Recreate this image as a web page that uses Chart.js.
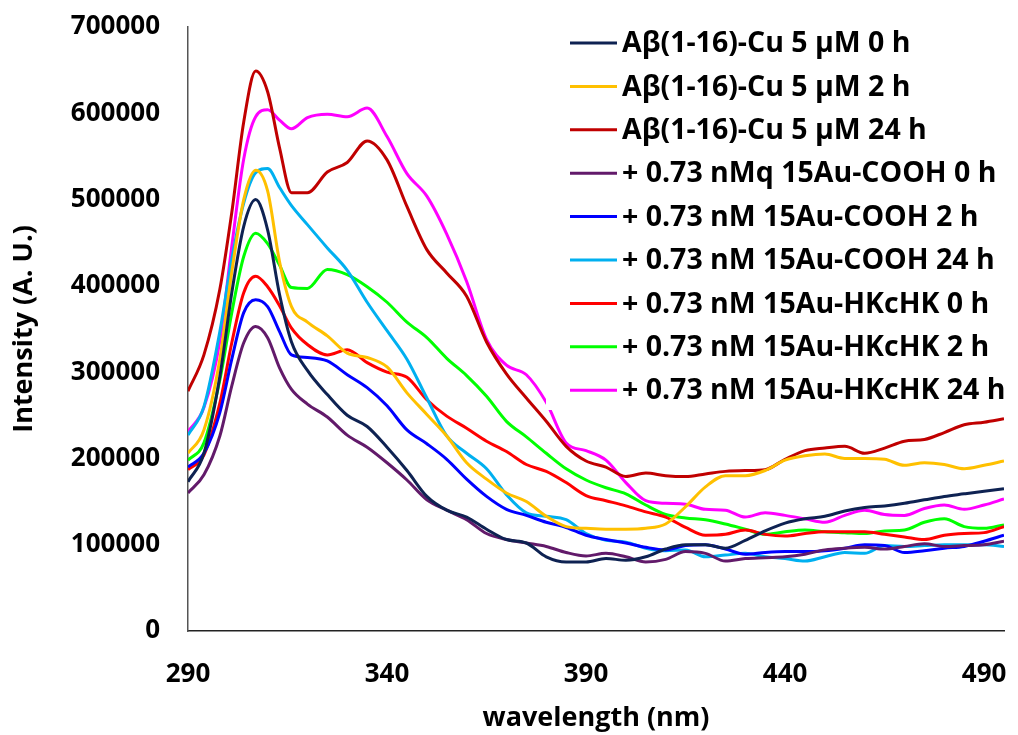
<!DOCTYPE html>
<html>
<head>
<meta charset="utf-8">
<title>Fluorescence spectra</title>
<script src="https://cdn.jsdelivr.net/npm/chart.js@4.4.1/dist/chart.umd.min.js"></script>
<style>
    html, body { margin: 0; padding: 0; background: #fff; }
    #chart { display: block; }
</style>
</head>
<body>
<canvas id="chart" width="1018" height="735"></canvas>
<script>
'use strict';

// x values (nm), denser around the 307 nm peak
const wavelengths = [290, 294, 298, 301, 304, 307, 310, 313, 316, 320,
    325, 330, 335, 340, 345, 350, 355, 360, 365, 370,
    375, 380, 385, 390, 395, 400, 405, 410, 415, 420,
    425, 430, 435, 440, 445, 450, 455, 460, 465, 470,
    475, 480, 485, 490, 495];
const xTicks = [290, 340, 390, 440, 490];

const seriesLabels = [
    'A\u03b2(1-16)-Cu 5 \u03bcM 0 h',
    'A\u03b2(1-16)-Cu 5 \u03bcM 2 h',
    'A\u03b2(1-16)-Cu 5 \u03bcM 24 h',
    '+ 0.73 nMq 15Au-COOH 0 h',
    '+ 0.73 nM 15Au-COOH 2 h',
    '+ 0.73 nM 15Au-COOH 24 h',
    '+ 0.73 nM 15Au-HKcHK 0 h',
    '+ 0.73 nM 15Au-HKcHK 2 h',
    '+ 0.73 nM 15Au-HKcHK 24 h',
];
const seriesColors = ['#0e2252', '#ffc000', '#c00000', '#621a6a', '#0000ff', '#00b0f0', '#ff0000', '#00ff00', '#ff00ff'];

// intensities (A. U.), one value per wavelength
const abCu0h = [173000, 206000, 295000, 392000, 469000, 500000, 465000, 390000, 335000, 302000,
    274000, 250000, 237000, 213000, 186000, 156000, 140000, 132000, 118000, 106000,
    102000, 86000, 80000, 80000, 84000, 82000, 86000, 95000, 100000, 100000,
    96000, 105000, 116000, 125000, 130000, 133000, 139000, 143000, 145000, 148000,
    152000, 156000, 159000, 162000, 165000];
const abCu2h = [206000, 233000, 315000, 416000, 500000, 534000, 510000, 428000, 376000, 358000,
    342000, 322000, 317000, 306000, 276000, 251000, 226000, 195000, 176000, 160000,
    150000, 133000, 121000, 119000, 118000, 118000, 119000, 124000, 144000, 167000,
    180000, 180000, 186000, 198000, 203000, 205000, 200000, 200000, 199000, 192000,
    195000, 193000, 188000, 192000, 197000];
const abCu24h = [278000, 320000, 396000, 485000, 590000, 649000, 625000, 560000, 508000, 508000,
    532000, 543000, 568000, 546000, 492000, 442000, 415000, 388000, 335000, 298000,
    270000, 243000, 214000, 197000, 190000, 179000, 183000, 180000, 179000, 182000,
    185000, 186000, 187000, 199000, 209000, 212000, 214000, 206000, 212000, 220000,
    222000, 230000, 239000, 242000, 246000];
const cooh0h = [160000, 181000, 226000, 284000, 334000, 353000, 340000, 305000, 280000, 263000,
    248000, 227000, 213000, 195000, 175000, 152000, 140000, 129000, 113000, 106000,
    102000, 98000, 91000, 87000, 90000, 86000, 80000, 83000, 92000, 90000,
    81000, 84000, 85000, 86000, 89000, 94000, 96000, 97000, 95000, 98000,
    101000, 98000, 99000, 100000, 104000];
const cooh2h = [190000, 206000, 253000, 315000, 369000, 384000, 376000, 347000, 320000, 317000,
    313000, 297000, 282000, 261000, 233000, 217000, 199000, 176000, 156000, 141000,
    134000, 126000, 120000, 111000, 106000, 102000, 97000, 94000, 99000, 100000,
    95000, 89000, 91000, 92000, 92000, 93000, 96000, 100000, 99000, 91000,
    93000, 96000, 98000, 104000, 111000];
const cooh24h = [227000, 260000, 347000, 431000, 496000, 531000, 536000, 514000, 493000, 471000,
    444000, 418000, 381000, 348000, 315000, 270000, 226000, 206000, 188000, 158000,
    137000, 133000, 129000, 113000, 105000, 103000, 96000, 93000, 94000, 86000,
    88000, 90000, 86000, 84000, 81000, 86000, 91000, 90000, 99000, 98000,
    99000, 100000, 100000, 100000, 98000];
const hk0h = [187000, 204000, 264000, 334000, 392000, 411000, 399000, 377000, 351000, 332000,
    320000, 326000, 311000, 300000, 294000, 268000, 249000, 235000, 220000, 208000,
    193000, 185000, 172000, 157000, 151000, 145000, 138000, 132000, 120000, 111000,
    112000, 117000, 112000, 110000, 113000, 115000, 115000, 115000, 112000, 109000,
    106000, 111000, 113000, 114000, 121000];
const hk2h = [198000, 218000, 291000, 369000, 434000, 461000, 449000, 424000, 398000, 397000,
    419000, 413000, 399000, 381000, 358000, 340000, 316000, 296000, 272000, 243000,
    225000, 206000, 188000, 175000, 166000, 159000, 146000, 135000, 131000, 129000,
    124000, 118000, 112000, 115000, 117000, 115000, 114000, 113000, 116000, 117000,
    126000, 130000, 121000, 119000, 123000];
const hk24h = [231000, 259000, 336000, 446000, 547000, 596000, 604000, 592000, 582000, 595000,
    599000, 596000, 606000, 573000, 530000, 504000, 460000, 405000, 338000, 308000,
    297000, 265000, 218000, 209000, 198000, 172000, 151000, 148000, 147000, 141000,
    140000, 132000, 137000, 134000, 130000, 126000, 134000, 140000, 135000, 134000,
    142000, 146000, 141000, 146000, 153000];

const seriesValues = [abCu0h, abCu2h, abCu24h, cooh0h, cooh2h, cooh24h, hk0h, hk2h, hk24h];

const tickFont = { family: '"Open Sans", sans-serif', size: 26, weight: 'bold' };
const titleFont = { family: '"Open Sans", sans-serif', size: 27, weight: 'bold' };

// legend sits inside the plot on a white box, like the excel one
const legendBox = {
    id: 'legendBox',
    afterDatasetsDraw(chart) {
        const ctx = chart.ctx;
        ctx.save();
        ctx.fillStyle = '#fff';
        ctx.fillRect(546, 16, 470, 394);
        ctx.font = 'bold 28.5px "Open Sans", sans-serif';
        ctx.textBaseline = 'middle';
        chart.data.datasets.forEach((ds, i) => {
            const y = 43 + i * 43.4;
            ctx.strokeStyle = ds.borderColor;
            ctx.lineWidth = 3;
            ctx.beginPath();
            ctx.moveTo(570, y);
            ctx.lineTo(617, y);
            ctx.stroke();
            ctx.fillStyle = '#000';
            ctx.fillText(ds.label, 622, y + 1);
        });
        ctx.restore();
    }
};

const datasets = seriesLabels.map((label, i) => ({
    label: label,
    data: wavelengths.map((w, j) => ({ x: w, y: seriesValues[i][j] })),
    borderColor: seriesColors[i],
    backgroundColor: seriesColors[i],
}));

const ctx = document.getElementById('chart').getContext('2d');
const chart = new Chart(ctx, {
    type: 'line',
    data: { datasets: datasets },
    plugins: [legendBox],
    options: {
        responsive: false,
        animation: false,
        layout: { padding: { top: 27, right: 14, left: 0, bottom: 0 } },
        plugins: {
            legend: { display: false },
            tooltip: { enabled: false },
        },
        elements: {
            point: { radius: 0 },
            line: { borderWidth: 3, cubicInterpolationMode: 'monotone' },
        },
        scales: {
            x: {
                type: 'linear',
                min: 290,
                max: 495,
                afterBuildTicks: scale => { scale.ticks = xTicks.map(v => ({ value: v })); },
                afterFit: scale => {
                    scale.height = 104;
                    scale.paddingLeft = 0;
                    scale.paddingRight = 0;
                },
                grid: { display: false, drawTicks: false },
                border: { display: true, color: '#222', width: 1.5 },
                ticks: { font: tickFont, color: '#000', padding: 28, maxRotation: 0, autoSkip: false },
                title: { display: true, text: 'wavelength (nm)', font: titleFont, color: '#000', padding: { top: 0, bottom: 0 } },
            },
            y: {
                min: 0,
                max: 700000,
                afterFit: scale => {
                    scale.width = 188;
                    scale.paddingTop = 0;
                    scale.paddingBottom = 0;
                },
                grid: { display: false, drawTicks: false },
                border: { display: true, color: '#555', width: 1.5 },
                ticks: { stepSize: 100000, font: tickFont, color: '#000', padding: 28, callback: v => String(v) },
                title: { display: true, text: 'Intensity (A. U.)', font: titleFont, color: '#000', padding: { top: 8, bottom: 0 } },
            },
        },
    },
});
</script>
</body>
</html>
